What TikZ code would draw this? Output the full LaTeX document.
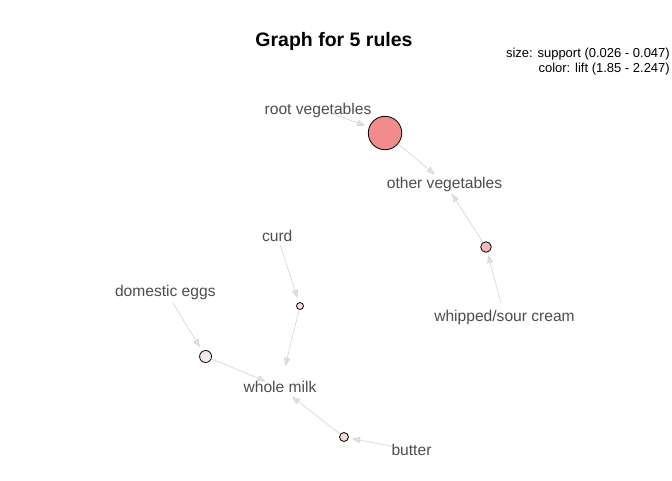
\documentclass[tikz,border=0pt]{standalone}
\usepackage{fontspec}
\setmainfont{Liberation Sans}
\usetikzlibrary{arrows.meta}
\definecolor{lblgray}{HTML}{4D4D4D}
\definecolor{edgegray}{HTML}{D3D3D3}
\definecolor{cA}{HTML}{F28C8C}
\definecolor{cB}{HTML}{F4BABA}
\definecolor{cC}{HTML}{F7DEDE}
\definecolor{cD}{HTML}{F5D9D9}
\definecolor{cE}{HTML}{F3EBEB}
\begin{document}
\begin{tikzpicture}[x=1pt,y=-1pt,
  lbl/.style={inner sep=0pt, outer sep=0pt, text height=11.2pt, text depth=0pt, text=lblgray, font=\fontsize{15.6}{18}\selectfont},
  rulec/.style={circle, draw=black, line width=0.8pt, inner sep=0pt, outer sep=0pt, minimum size=#1},
  conn/.style={draw=edgegray, line width=0.6pt, -{Triangle[length=8pt,width=6pt,fill=edgegray!70]}},
  legend/.style={inner sep=0pt, anchor=base east, font=\fontsize{13}{15}\selectfont}]
\useasboundingbox (0,0) rectangle (672,480);
\node[inner sep=0pt, anchor=base, font=\fontsize{19.5}{22}\selectfont\bfseries] (title) at (334,46.5) {Graph for 5 rules};
\node[legend] (leg1) at (670,57.5) {size: support (0.026 - 0.047)};
\node[legend] (leg2) at (670,72) {color: lift (1.85 - 2.247)};
% item labels
\node[lbl] (rv) at (318,108.4) {root vegetables};
\node[lbl] (ov) at (444.5,182.5) {other vegetables};
\node[lbl] (ws) at (504.5,316.3) {whipped/sour cream};
\node[lbl] (cu) at (277.2,235.5) {curd};
\node[lbl] (de) at (165.3,290.5) {domestic eggs};
\node[lbl] (wm) at (280,387.3) {whole milk};
\node[lbl] (bu) at (411.5,450) {butter};
% rule circles
\node[rulec=33.4pt, fill=cA] (r1) at (385,133) {};
\node[rulec=10.6pt, fill=cB] (r2) at (486,247) {};
\node[rulec=7pt, fill=cC] (r3) at (300,306) {};
\node[rulec=12pt, fill=cE] (r4) at (205.6,356.5) {};
\node[rulec=9pt, fill=cD] (r5) at (344,437) {};
% connectors
\draw[conn, shorten <=14.9pt, shorten >=4.5pt] (rv.center) -- (r1);
\draw[conn, shorten >=12.7pt] (r1) -- (ov.center);
\draw[conn, shorten <=14.3pt, shorten >=3pt] (ws.center) -- (r2);
\draw[conn, shorten >=13.5pt] (r2) -- (ov.center);
\draw[conn, shorten <=10pt, shorten >=5pt] (cu.center) -- (r3);
\draw[conn, shorten >=22pt] (r3) -- (wm.center);
\draw[conn, shorten <=14.3pt, shorten >=5pt] (de.center) -- (r4);
\draw[conn, shorten >=15.6pt] (r4) -- (wm.center);
\draw[conn, shorten >=15.3pt] (r5) -- (wm.center);
\draw[conn, shorten <=19.3pt, shorten >=3.7pt] (bu.center) -- (r5);
\end{tikzpicture}
\end{document}
